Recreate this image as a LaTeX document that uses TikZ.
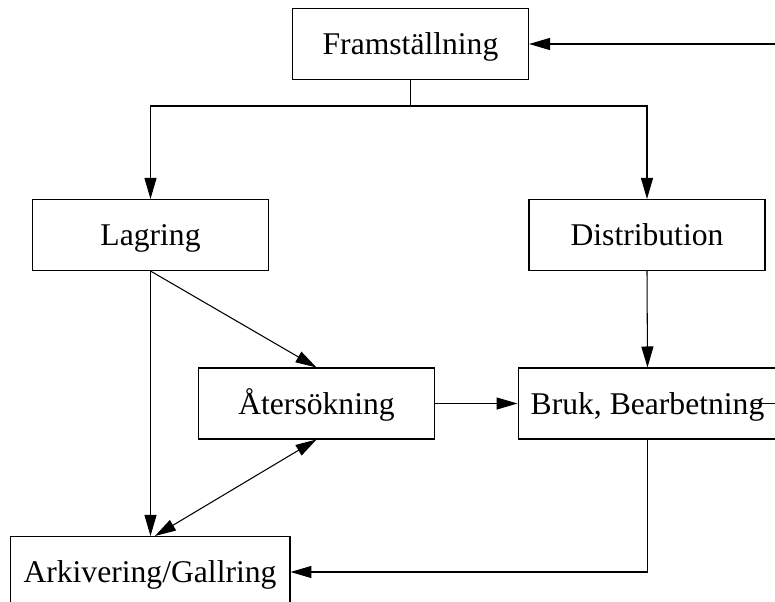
\documentclass[tikz,border=0pt]{standalone}
\usepackage{fontspec}
\setmainfont{Liberation Serif}
\usetikzlibrary{arrows.meta}
\tikzstyle{blk} = [rectangle, draw=black, line width=0.6pt, minimum width=4.72cm, minimum height=1.42cm, text centered, inner sep=0pt, text height=1.35em, text depth=0.1em, font=\fontsize{18}{21}\selectfont]
\tikzstyle{flow} = [line width=0.6pt, -{Triangle[length=0.42cm,width=0.24cm]}]
\tikzstyle{flowboth} = [line width=0.6pt, {Triangle[length=0.42cm,width=0.24cm]}-{Triangle[length=0.42cm,width=0.24cm]}]

\begin{document}
\begin{tikzpicture}[x=0.02cm,y=-0.02cm]
                \useasboundingbox (0,0) rectangle (775,602);
                \clip (0,0) rectangle (775,602);
                \node[blk] (fram) at (410.5,44) {Framställning};
                \node[blk] (lagring) at (150.5,235) {Lagring};
                \node[blk] (distr) at (647,235) {Distribution};
                \node[blk] (ater) at (316.5,403.5) {Återsökning};
                \node[blk, minimum width=5.18cm] (bruk) at (647.5,403.5) {Bruk, Bearbetning};
                \node[blk, minimum width=5.6cm] (ark) at (150,572) {Arkivering/Gallring};

                \coordinate (split) at (410.5,106);
                \draw[line width=0.6pt] (fram.south) -- (split);
                \draw[flow] (split) -| (lagring.north);
                \draw[flow] (split) -| (distr.north);

                \draw[flow] (lagring.south) -- (lagring.south |- ark.north);
                \draw[flow] (lagring.south) -- (ater.north);
                \draw[flow] (distr.south) -- (bruk.north);
                \draw[flow] (ater.east) -- (bruk.west);
                \draw[flowboth] (ater.south) -- ([xshift=0.1cm]ark.north);
                \draw[flow] (bruk.south) |- (ark.east);

                \coordinate (fbout) at (752,403.5);
                \coordinate (fbturn) at (800,403.5);
                \draw[flow] (fbout) -- (fbturn) |- (fram.east);
\end{tikzpicture}
\end{document}
